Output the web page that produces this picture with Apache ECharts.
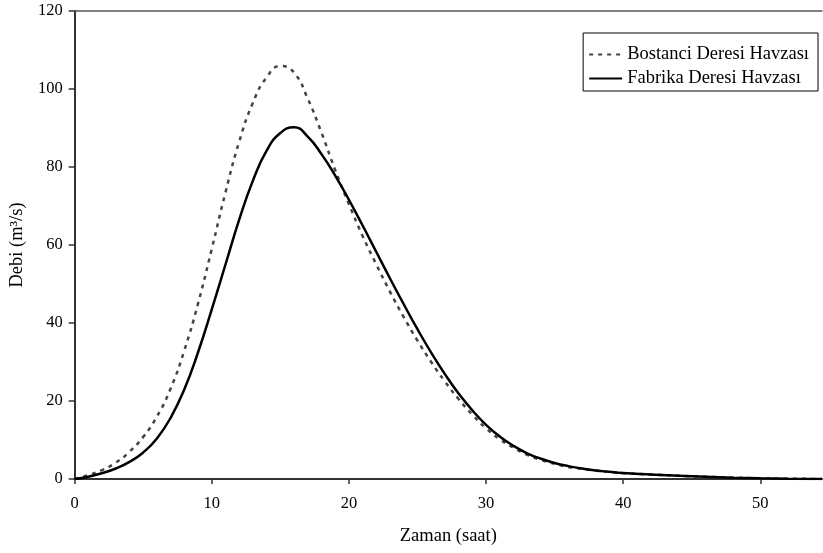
<!DOCTYPE html>
<html>
<head>
<meta charset="utf-8">
<script src="https://cdn.jsdelivr.net/npm/echarts@6/dist/echarts.min.js"></script>
<style>html,body{margin:0;padding:0;background:#fff}#c{width:823px;height:553px}</style>
</head>
<body>
<div id="c"></div>
<script>
const hours = [0,1,2,3,4,5,6,7,8,9,10,11,12,13,14,15,16,17,18,19,20,21,22,23,24,25,26,27,28,29,30,31,32,33,34,35,36,37,38,39,40,42,44,46,48,50,52,54.5];
const bostanci = [0,1.0,2.3,4.2,7.0,10.8,16.0,23.2,33,45,59,73.5,86.5,96.5,103,105.9,104.2,97.5,88.8,79.2,70.5,62.3,55,48,41.5,35.5,30,25,20.5,16.5,13,10.2,8,6.2,4.9,3.9,3.1,2.6,2.15,1.8,1.5,1.15,0.85,0.58,0.35,0.18,0.07,0.02];
const fabrika = [0,0.6,1.5,2.7,4.4,6.8,10.4,15.7,23,32.5,43.5,55,66.5,76.5,84.2,88.7,90.2,87.8,83.3,77.8,71.6,65,58.2,51.4,44.8,38.4,32.4,26.9,21.9,17.6,13.9,10.9,8.5,6.6,5.2,4.1,3.3,2.7,2.2,1.85,1.55,1.15,0.85,0.58,0.35,0.18,0.07,0.02];
const xTicks = [0,10,20,30,40,50];
const seriesNames = ['Bostanci Deresi Havzası','Fabrika Deresi Havzası'];

const font = 'Liberation Serif';
const chart = echarts.init(document.getElementById('c'), null, {renderer:'canvas'});
const pairs = arr => hours.map((h,i)=>[h,arr[i]]);
chart.setOption({
  animation:false,
  backgroundColor:'#fff',
  textStyle:{fontFamily:font,color:'#000'},
  grid:{left:74,top:11,right:1,bottom:74,containLabel:false},
  legend:{
    orient:'vertical', right:5, top:33,
    padding:[12,9,3,5], itemGap:5, itemWidth:33, itemHeight:14,
    borderColor:'#000', borderWidth:1, backgroundColor:'#fff',
    itemStyle:{opacity:0},
    textStyle:{fontFamily:font,fontSize:18.5,color:'#000'},
    data:seriesNames
  },
  xAxis:[{
    type:'value', min:0, max:54.5, interval:10,
    name:'Zaman (saat)', nameLocation:'middle', nameGap:48,
    nameTextStyle:{fontFamily:font,fontSize:18.5,color:'#000'},
    axisLine:{show:true,lineStyle:{color:'#333',width:2}},
    axisTick:{show:true,length:5,customValues:xTicks,lineStyle:{color:'#333',width:1.5}},
    axisLabel:{customValues:xTicks,fontFamily:font,fontSize:16.5,color:'#000',margin:16},
    splitLine:{show:false}
  },{
    type:'value', position:'top', min:0, max:54.5,
    axisLine:{show:true,onZero:false,lineStyle:{color:'#555',width:1.5}},
    axisTick:{show:false}, axisLabel:{show:false}, splitLine:{show:false}
  }],
  yAxis:{
    type:'value', min:0, max:120, interval:20,
    name:'Debi (m³/s)', nameLocation:'middle', nameGap:42, nameRotate:90,
    nameTextStyle:{fontFamily:font,fontSize:18.5,color:'#000'},
    axisLine:{show:true,lineStyle:{color:'#333',width:2}},
    axisTick:{show:true,length:6,lineStyle:{color:'#333',width:1.5}},
    axisLabel:{fontFamily:font,fontSize:16.5,color:'#000',margin:12},
    splitLine:{show:false}
  },
  series:[{
    name:seriesNames[0], type:'line', data:pairs(bostanci), smooth:0.5,
    symbol:'none', lineStyle:{color:'#444',width:2.5,type:[4,5]}, itemStyle:{color:'#444'}
  },{
    name:seriesNames[1], type:'line', data:pairs(fabrika), smooth:0.5,
    symbol:'none', lineStyle:{color:'#000',width:2.5,type:'solid'}, itemStyle:{color:'#000'}
  }]
});
</script>
</body>
</html>
